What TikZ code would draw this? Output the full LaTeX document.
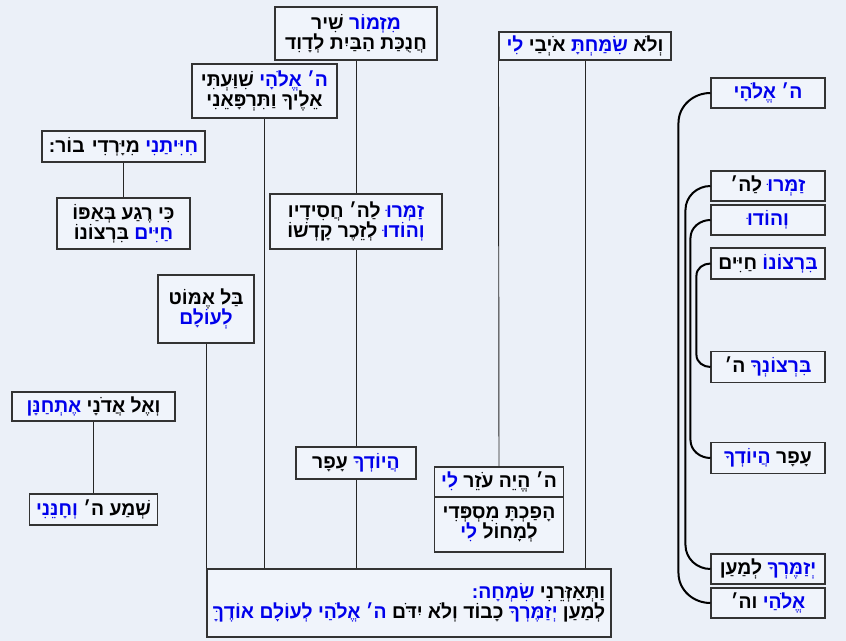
\documentclass[tikz,border=0pt]{standalone}
\usepackage{fontspec}
\usetikzlibrary{calc,shadows}
\TeXXeTstate=1
\newfontfamily\hebfont[Script=Hebrew]{Liberation Sans}
\definecolor{hblau}{RGB}{0,0,235}
\definecolor{hgrund}{RGB}{235,240,248}
\definecolor{kastenfarbe}{RGB}{240,244,251}
% Wortfolge so, wie sie im Bild steht
\newcommand\heb[1]{{\hebfont\bfseries #1}}
\newcommand\bl[1]{\hbox{{\color{hblau}#1}}}

\begin{document}
\begin{tikzpicture}[
  x=0.75pt, y=-0.75pt, % Pixelkoordinaten, y nach unten
  font=\fontsize{14.5}{15}\selectfont,
  vers/.style={draw=black!80, fill=kastenfarbe, line width=0.8pt, inner sep=0pt, align=center,
    drop shadow={shadow xshift=0.6pt, shadow yshift=-0.6pt, fill=black!30}},
  kasten/.style 2 args={minimum width=#1*0.75pt, minimum height=#2*0.75pt},
  linie/.style={black!85, line width=0.7pt},
  bogen/.style={black, line width=1.5pt}
  ]
% Hintergrund
  \fill[hgrund] (0,0) rectangle (846,641);
  \useasboundingbox (0,0) rectangle (846,641);
% Verse (Baum)
  \node[vers,kasten={162}{53}] (psalm) at (356,33.5)
    {\heb{שִׁיר \bl{מִזְמוֹר}}\\\heb{לְדָוִד הַבַּיִת חֲנֻכַּת}};
  \node[vers,kasten={145}{54}] (elohai) at (264.5,91)
    {\heb{שִׁוַּעְתִּי \bl{אֱלֹהָי ה׳}}\\\heb{וַתִּרְפָּאֵנִי אֵלֶיךָ}};
  \node[vers,kasten={172}{28}] (welo) at (585,46)
    {\heb{\bl{לִי} אֹיְבַי \bl{שִׂמַּחְתָּ} וְלֹא}};
  \node[vers,kasten={163}{31}] (chijitani) at (123.5,146.5)
    {\heb{בוֹר: מִיָּרְדִי \bl{חִיִּיתַנִי}}};
  \node[vers,kasten={133}{51}] (rega) at (123.5,223.5)
    {\heb{בְּאַפּוֹ רֶגַע כִּי}\\\heb{בִּרְצוֹנוֹ \bl{חַיִּים}}};
  \node[vers,kasten={172}{55}] (zamru) at (356,221.5)
    {\heb{חֲסִידָיו לַה׳ \bl{זַמְּרוּ}}\\\heb{קָדְשׁוֹ לְזֵכֶר \bl{וְהוֹדוּ}}};
  \node[vers,kasten={96}{68}] (emmot) at (206,309)
    {\heb{אֶמּוֹט בַּל}\\\heb{\bl{לְעוֹלָם}}};
  \node[vers,kasten={163}{29}] (ewe) at (93.5,406.5)
    {\heb{\bl{אֶתְחַנָּן} אֲדֹנָי וְאֶל}};
  \node[vers,kasten={128}{31}] (shema) at (93.5,509.5)
    {\heb{\bl{וְחָנֵּנִי} ה׳ שְׁמַע}};
  \node[vers,kasten={120}{32}] (hajodcha) at (356,463)
    {\heb{עָפָר \bl{הֲיוֹדְךָ}}};
  \node[vers,kasten={129}{30}] (ezer) at (499,482)
    {\heb{\bl{לִי} עֹזֵר הֱיֵה ה׳}};
  \node[vers,kasten={129}{55}] (hafachta) at (499,524.5)
    {\heb{מִסְפְּדִי הָפַכְתָּ}\\\heb{\bl{לִי} לְמָחוֹל}};
  \node[vers,kasten={404}{68},align=right] (schluss) at (409,603)
    {\heb{\bl{שִׂמְחָה:} וַתְּאַזְּרֵנִי}\\
     \heb{\bl{אוֹדֶךָּ לְעוֹלָם אֱלֹהַי ה׳} יִדֹּם וְלֹא כָבוֹד \bl{יְזַמֶּרְךָ} לְמַעַן}};
% Verbindungen
  \draw[linie] (psalm.south) -- (zamru.north);
  \draw[linie] (zamru.south) -- (hajodcha.north);
  \draw[linie] (hajodcha.south) -- (hajodcha.south |- schluss.north);
  \draw[linie] (elohai.south) -- (elohai.south |- schluss.north);
  \draw[linie] (welo.south) -- (welo.south |- schluss.north);
  \draw[linie] (welo.south west) -- (ezer.north);
  \draw[linie] (emmot.south) -- (emmot.south |- schluss.north);
  \draw[linie] (chijitani.south) -- (rega.north);
  \draw[linie] (ewe.south) -- (shema.north);
% Wortpaare rechts
  \node[vers,kasten={114}{30}] (w1) at (768,93) {\heb{\bl{אֱלֹהָי ה׳}}};
  \node[vers,kasten={114}{30}] (w2) at (768,186) {\heb{לַה׳ \bl{זַמְּרוּ}}};
  \node[vers,kasten={114}{30}] (w3) at (768,220) {\heb{\bl{וְהוֹדוּ}}};
  \node[vers,kasten={114}{31}] (w4) at (768,263.5) {\heb{חַיִּים \bl{בִּרְצוֹנוֹ}}};
  \node[vers,kasten={114}{31}] (w5) at (768,367) {\heb{ה׳ \bl{בִּרְצוֹנְךָ}}};
  \node[vers,kasten={114}{31}] (w6) at (768,458) {\heb{\bl{הֲיוֹדְךָ} עָפָר}};
  \node[vers,kasten={114}{30}] (w7) at (768,569) {\heb{לְמַעַן \bl{יְזַמֶּרְךָ}}};
  \node[vers,kasten={114}{30}] (w8) at (768,603) {\heb{וה׳ \bl{אֱלֹהַי}}};
  \foreach \a/\b/\d/\h in {w1/w8/32/30, w2/w7/25/24, w3/w6/20/18, w4/w5/14/12}
    \draw[bogen] (\a.west) to[out=180,in=90] ($(\a.west)+(-\d,\h)$)
      -- ($(\b.west)+(-\d,-\h)$) to[out=-90,in=180] (\b.west);
\end{tikzpicture}
\end{document}
